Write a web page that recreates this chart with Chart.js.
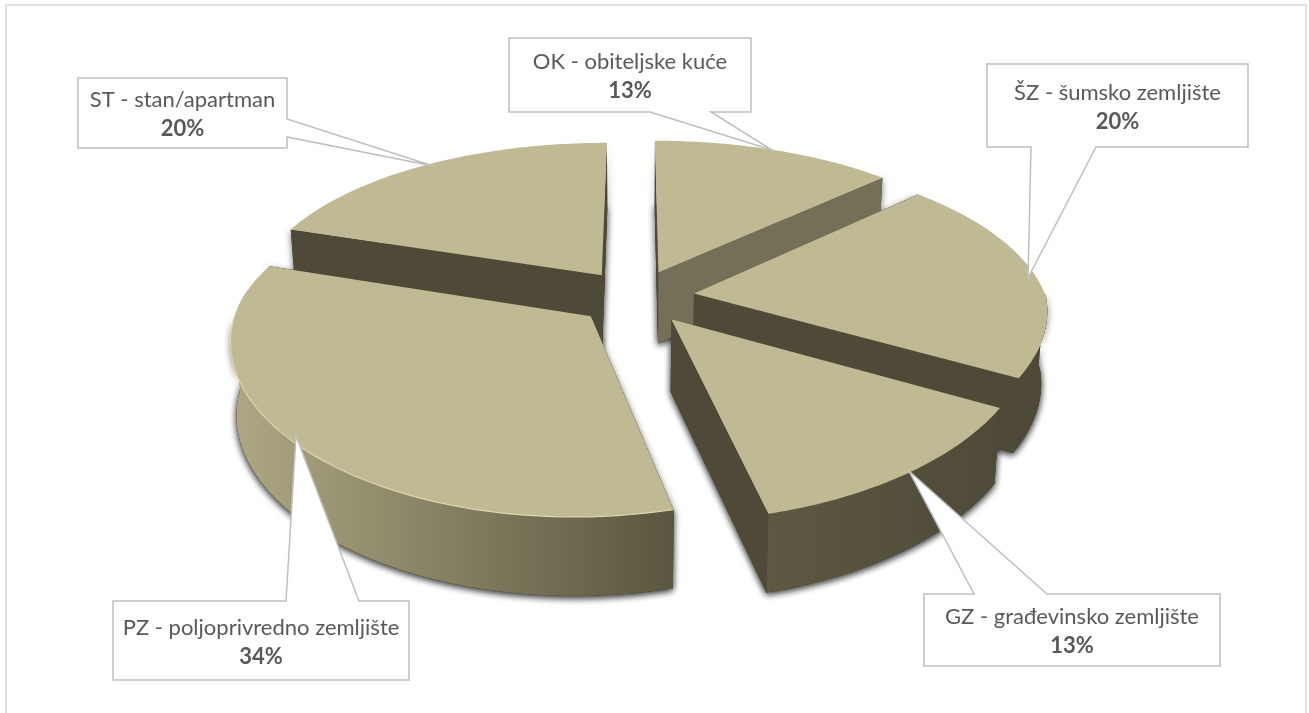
<!DOCTYPE html>
<html>
<head>
<meta charset="utf-8">
<title>Struktura nekretnina</title>
<script src="https://cdn.jsdelivr.net/npm/chart.js@4"></script>
<style>
  html, body { margin: 0; padding: 0; background: #fff; }
  canvas { display: block; }
</style>
</head>
<body>
<canvas id="pieChart" width="1309" height="713"></canvas>
<script>
// chart values, clockwise from 12 o'clock
const categories = ["OK - obiteljske kuće", "ŠZ - šumsko zemljište", "GZ - građevinsko zemljište", "PZ - poljoprivredno zemljište", "ST - stan/apartman"];
const shares = [13, 20, 13, 34, 20];

// callout boxes [left, top, right, bottom], wedge [x1, y1, tipX, tipY, x2, y2]
const calloutBoxes = [[509, 38, 751, 112], [987, 64, 1248, 147], [924, 594, 1220, 666], [113, 601, 409, 680], [78, 78, 287, 148]];
const calloutWedges = [[650, 112, 772, 150, 711, 112], [1031, 147, 1028, 278, 1096, 147], [974, 594, 909, 471, 1047, 594], [286, 601, 296, 436, 359, 601], [287, 119, 433, 166, 287, 137]];

// side wall colours per slice: [start edge, end edge]
const edgeColors = [["#4f4a38", "#756f57"], ["#4f4a38", "#4f4a38"], ["#4f4a38", "#4f4a38"], ["#4f4a38", "#4f4a38"], ["#4f4a38", "#4f4a38"]];
const wallStops = [["#4f4a38", "#4f4a38"], ["#4f4a38", "#4f4a38"], ["#5c5842", "#4f4a38"], ["#aea883", "#5a563f"], ["#4f4a38", "#4f4a38"]];

const topColor = "#c0ba94";
const explode = 59;

// fake 3d view of the pie, back and front of the plate foreshorten differently
const view = {
  cx: 635.6, cy: 297, radius: 352, tilt: 0.466,
  persXBack: 0.00045, persXFront: 0.0003, persYBack: 0.00052, persYFront: 0.00043,
  lean: 0.025, depth: 72, shrink: 0.985,
};

// p = [x, y, explodeX]
function project(p, down) {
  const y = p[1];
  const wx = 1 / (1 - (y < 0 ? view.persXBack : view.persXFront) * y);
  const wy = 1 / (1 - (y < 0 ? view.persYBack : view.persYFront) * y);
  let px = (p[0] - p[2]) * wx + p[2] * wy - view.lean * Math.max(y, 0);
  let py = view.tilt * y * wy;
  if (down) {
    px *= view.shrink;
    py += view.depth * Math.sqrt(wy);
  }
  return [view.cx + px, view.cy + py];
}

function slicePoints(arc) {
  const { startAngle, endAngle } = arc.getProps(["startAngle", "endAngle"], true);
  const mid = (startAngle + endAngle) / 2;
  const ox = Math.cos(mid) * arc.options.offset;
  const oy = Math.sin(mid) * arc.options.offset;
  const rim = [];
  const front = [];
  const steps = 60;
  for (let i = 0; i <= steps; i++) {
    const a = startAngle + ((endAngle - startAngle) * i) / steps;
    const p = [ox + Math.cos(a) * view.radius, oy + Math.sin(a) * view.radius, ox];
    rim.push(p);
    if (Math.sin(a) >= 0) front.push(p);
  }
  return { apex: [ox, oy, ox], rim, front, mid };
}

function fillPoly(ctx, pts, fill) {
  ctx.beginPath();
  pts.forEach((p, i) => (i ? ctx.lineTo(p[0], p[1]) : ctx.moveTo(p[0], p[1])));
  ctx.closePath();
  ctx.fillStyle = fill;
  ctx.fill();
}

function edgeWall(p, q) {
  return [project(p), project(q), project(q, true), project(p, true)];
}

function rimWall(rim) {
  const upper = rim.map((p) => project(p));
  const lower = rim.map((p) => project(p, true)).reverse();
  return upper.concat(lower);
}

function drawSlice(ctx, s, i, shadowOnly) {
  const first = s.rim[0];
  const last = s.rim[s.rim.length - 1];
  const top = [project(s.apex)].concat(s.rim.map((p) => project(p)));

  if (shadowOnly) {
    // only the walls throw a shadow, the top edge stays clean
    const base = [project(s.apex, true)].concat(s.rim.map((p) => project(p, true)));
    fillPoly(ctx, base, "#4f4a38");
    if (s.front.length) fillPoly(ctx, rimWall(s.front), "#4f4a38");
    fillPoly(ctx, edgeWall(s.apex, first), "#4f4a38");
    fillPoly(ctx, edgeWall(s.apex, last), "#4f4a38");
    return;
  }

  fillPoly(ctx, edgeWall(s.apex, first), edgeColors[i][0]);
  fillPoly(ctx, edgeWall(s.apex, last), edgeColors[i][1]);

  if (s.front.length) {
    const xs = s.front.map((p) => project(p)[0]);
    const grad = ctx.createLinearGradient(Math.min(...xs), 0, Math.max(...xs), 0);
    grad.addColorStop(0, wallStops[i][0]);
    grad.addColorStop(1, wallStops[i][1]);
    fillPoly(ctx, rimWall(s.front), grad);
  }

  fillPoly(ctx, top, topColor);

  // PZ has a light rim along the front edge
  if (shares[i] === Math.max(...shares)) {
    ctx.beginPath();
    s.front.map((p) => project(p)).forEach((p, n) => (n ? ctx.lineTo(p[0], p[1]) : ctx.moveTo(p[0], p[1])));
    ctx.strokeStyle = "#ddd6ae";
    ctx.lineWidth = 1.2;
    ctx.stroke();
  }
}

function drawCallout(ctx, i) {
  const b = calloutBoxes[i];
  const w = calloutWedges[i];
  const onTop = w[1] === b[1];
  const onBottom = w[1] === b[3];
  ctx.beginPath();
  ctx.moveTo(b[0], b[1]);
  if (onTop) { ctx.lineTo(w[0], w[1]); ctx.lineTo(w[2], w[3]); ctx.lineTo(w[4], w[5]); }
  ctx.lineTo(b[2], b[1]);
  if (!onTop && !onBottom) { ctx.lineTo(w[0], w[1]); ctx.lineTo(w[2], w[3]); ctx.lineTo(w[4], w[5]); }
  ctx.lineTo(b[2], b[3]);
  if (onBottom) { ctx.lineTo(w[4], w[5]); ctx.lineTo(w[2], w[3]); ctx.lineTo(w[0], w[1]); }
  ctx.lineTo(b[0], b[3]);
  ctx.closePath();
  ctx.fillStyle = "#fff";
  ctx.fill();
  ctx.strokeStyle = "#bfbfbf";
  ctx.lineWidth = 1.5;
  ctx.stroke();

  const tx = (b[0] + b[2]) / 2;
  const ty = (b[1] + b[3]) / 2;
  ctx.fillStyle = "#595959";
  ctx.textAlign = "center";
  ctx.textBaseline = "middle";
  ctx.font = "22px Lato";
  ctx.fillText(categories[i], tx, ty - 13);
  ctx.font = "bold 22px Lato";
  ctx.fillText(`${shares[i]}%`, tx, ty + 16);
}

const pie3d = {
  id: "pie3d",
  beforeDatasetsDraw(chart) {
    const ctx = chart.ctx;
    const arcs = chart.getDatasetMeta(0).data;
    const slices = arcs.map((arc, i) => ({ ...slicePoints(arc), i }));
    // back slices first
    slices.sort((a, b) => Math.sin(a.mid) - Math.sin(b.mid));

    ctx.save();
    // outer frame runs off the bottom of the picture
    ctx.strokeStyle = "#e0e0e0";
    ctx.lineWidth = 2;
    ctx.beginPath();
    ctx.moveTo(6, 713);
    ctx.lineTo(6, 5);
    ctx.lineTo(1306, 5);
    ctx.lineTo(1306, 713);
    ctx.stroke();

    ctx.shadowColor = "rgba(0,0,0,0.55)";
    ctx.shadowBlur = 7;
    ctx.shadowOffsetY = 2;
    slices.forEach((s) => drawSlice(ctx, s, s.i, true));
    ctx.shadowColor = "transparent";
    ctx.shadowBlur = 0;
    ctx.shadowOffsetY = 0;

    slices.forEach((s) => drawSlice(ctx, s, s.i, false));
    categories.forEach((c, i) => drawCallout(ctx, i));
    ctx.restore();
    return false; // arcs replaced by the projected version
  },
};

new Chart(document.getElementById("pieChart"), {
  type: "pie",
  data: {
    labels: categories,
    datasets: [{ data: shares, backgroundColor: topColor, offset: explode, borderWidth: 0 }],
  },
  options: {
    responsive: false,
    animation: false,
    events: [],
    plugins: { legend: { display: false }, tooltip: { enabled: false } },
  },
  plugins: [pie3d],
});
</script>
</body>
</html>
